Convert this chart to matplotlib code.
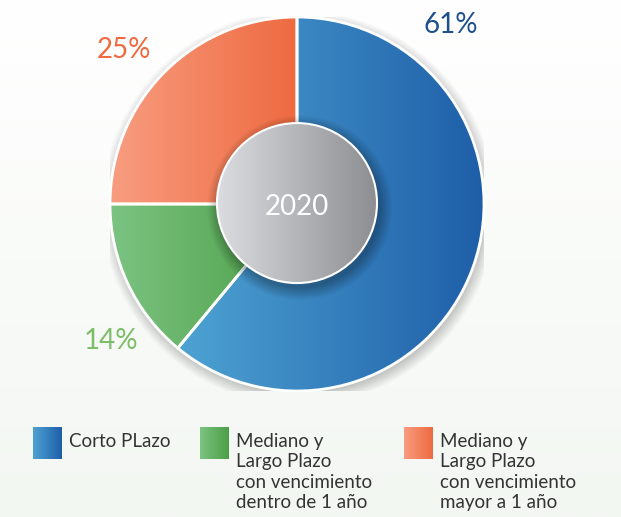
import numpy as np
import matplotlib
matplotlib.use("Agg")
import matplotlib.pyplot as plt
from matplotlib.patches import Circle, Rectangle
from matplotlib.colors import LinearSegmentedColormap

plt.rcParams['font.family'] = ['Lato', 'DejaVu Sans']

# Data
categories = ['Corto PLazo',
              'Mediano y\nLargo Plazo\ncon vencimiento\ndentro de 1 año',
              'Mediano y\nLargo Plazo\ncon vencimiento\nmayor a 1 año']
values = [61, 14, 25]
year = '2020'

# gradient colours (light -> dark, left to right)
grad_colors = [('#4ea3d3', '#1e5ea8'), ('#7cc382', '#4c9f47'), ('#f89d80', '#ee6a40')]
label_colors = ['#1d4f8f', '#7cbd68', '#ef6a3f']
label_pos = [(0.824, 0.914), (-0.995, -0.775), (-0.925, 0.78)]

W, H = 621, 517
fig = plt.figure(figsize=(W / 100, H / 100), dpi=100)

# background: faint greenish wash towards the bottom
bg = fig.add_axes([0, 0, 1, 1])
bg.set_axis_off()
grad_bg = np.linspace(0, 1, 256).reshape(-1, 1)
bg_cmap = LinearSegmentedColormap.from_list('bg', ['#f3f7f2', '#ffffff'])
bg.imshow(grad_bg, aspect='auto', cmap=bg_cmap, extent=(0, 1, 0, 1), origin='lower')
bg.set_xlim(0, 1)
bg.set_ylim(0, 1)

# pie axes: centre at (297, 204) px, radius 187 px
cx, cy, r = 297, 204, 187
ax = fig.add_axes([(cx - r) / W, (H - cy - r) / H, 2 * r / W, 2 * r / H])
ax.set_axis_off()

# soft shadow behind the pie
yy, xx = np.mgrid[-1.2:1.2:400j, -1.2:1.2:400j]
dist = np.hypot(xx - 0.01, yy + 0.02)
sh = np.clip((1.06 - dist) / 0.07, 0, 1) * 0.22
sh_img = np.zeros((400, 400, 4))
sh_img[..., 3] = sh
ax.imshow(sh_img, extent=(-1.2, 1.2, -1.2, 1.2), origin='lower', zorder=0)

wedges, _ = ax.pie(values, startangle=90, counterclock=False, radius=1,
                   wedgeprops=dict(edgecolor='white', linewidth=2))

hgrad = np.linspace(0, 1, 256).reshape(1, -1)
for w, (c0, c1) in zip(wedges, grad_colors):
    w.set_facecolor('none')
    ext = w.get_path().get_extents()
    cmap = LinearSegmentedColormap.from_list('g', [c0, c1])
    im = ax.imshow(hgrad, aspect='auto', cmap=cmap,
                   extent=(ext.x0, ext.x1, ext.y0, ext.y1), zorder=1)
    im.set_clip_path(w)
    w.set_zorder(2)

# centre disc with a soft shadow
rin = 80 / 187
dist_in = np.hypot(xx - 0.015, yy + 0.02)
sh2 = np.clip((rin + 0.07 - dist_in) / 0.07, 0, 1) * 0.3
sh2_img = np.zeros((400, 400, 4))
sh2_img[..., 3] = sh2
ax.imshow(sh2_img, extent=(-1.2, 1.2, -1.2, 1.2), origin='lower', zorder=3)

disc = Circle((0, 0.005), rin, facecolor='none', edgecolor='white', linewidth=1.5, zorder=5)
ax.add_patch(disc)
gcmap = LinearSegmentedColormap.from_list('gray', ['#dcdde0', '#8d8e92'])
im = ax.imshow(hgrad, aspect='auto', cmap=gcmap,
               extent=(-rin, rin, -rin, rin), zorder=4)
im.set_clip_path(disc)
ax.text(0, -0.059, year, ha='center', va='baseline', color='white', fontsize=20, zorder=6)

ax.set_xlim(-1, 1)
ax.set_ylim(-1, 1)

# percentage labels
for v, col, (lx, ly) in zip(values, label_colors, label_pos):
    ax.text(lx, ly, f'{v}%', ha='center', va='baseline', color=col, fontsize=20,
            clip_on=False, zorder=6)

# legend in pixel space
lg = fig.add_axes([0, 0, 1, 1], facecolor='none')
lg.set_axis_off()
legend_x = [33, 200, 404]
for lx, cat, (c0, c1) in zip(legend_x, categories, grad_colors):
    rect = Rectangle((lx, 427), 29, 32, facecolor='none', edgecolor='none')
    lg.add_patch(rect)
    cmap = LinearSegmentedColormap.from_list('g', [c0, c1])
    im = lg.imshow(hgrad, aspect='auto', cmap=cmap, extent=(lx, lx + 29, 459, 427))
    im.set_clip_path(rect)
    lg.text(lx + 36, 433, cat, ha='left', va='top', color='#333333',
            fontsize=13.5, linespacing=1.24)
lg.set_xlim(0, W)
lg.set_ylim(H, 0)

fig.savefig('out.png', dpi=100)
